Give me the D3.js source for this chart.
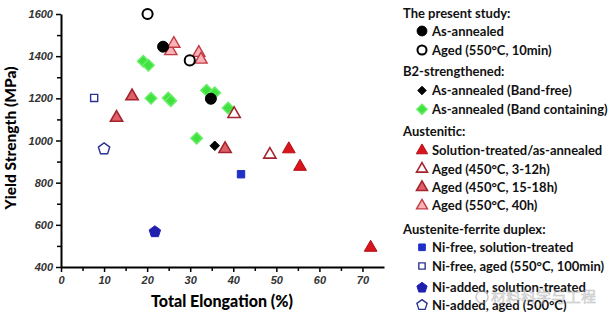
<!DOCTYPE html>
<html>
<head>
<meta charset="utf-8">
<script src="https://cdn.jsdelivr.net/npm/d3@7"></script>
<style>
  body { margin: 0; background: #fff; }
  svg { display: block; }
  .tick text { font-family: "Liberation Sans", Arial, sans-serif; font-weight: bold; font-style: italic; font-size: 11px; fill: #333; }
  .legend text { font-family: Lato, "Open Sans", sans-serif; font-weight: bold; font-size: 13px; fill: #111; }
</style>
</head>
<body>
<svg id="chart"></svg>
<script>
// values: total elongation (%) and yield strength (MPa)
var presentAnnealedX = [23.7, 34.8], presentAnnealedY = [1445, 1198];
var presentAgedX = [20.1, 29.9], presentAgedY = [1600, 1380];
var bandFreeX = [35.7], bandFreeY = [975];
var bandContX = [19.1, 20.3, 20.9, 24.9, 25.5, 31.5, 33.8, 35.7, 38.8];
var bandContY = [1376, 1357, 1200, 1202, 1189, 1011, 1238, 1226, 1154];
var solutionX = [52.9, 55.5, 71.9], solutionY = [959, 876, 492];
var aged312X = [48.5, 40.2], aged312Y = [933, 1126];
var aged1518X = [16.5, 12.9, 38.1], aged1518Y = [1210, 1108, 960];
var aged550X = [25.5, 26.2, 32.0, 32.5], aged550Y = [1424, 1459, 1416, 1384];
var niFreeSTX = [41.8], niFreeSTY = [840];
var niFreeAgedX = [7.7], niFreeAgedY = [1202];
var niAddedSTX = [21.8], niAddedSTY = [567];
var niAddedAgedX = [10.0], niAddedAgedY = [960];

var xTicks = [0, 10, 20, 30, 40, 50, 60, 70];
var yTicks = [400, 600, 800, 1000, 1200, 1400, 1600];

var svgWidth = 616, svgHeight = 328;
var svg = d3.select("#chart").attr("width", svgWidth).attr("height", svgHeight);

var margin = {top: 14, left: 61, right: 232, bottom: 61};

var x = d3.scaleLinear().domain([0, 75]).range([margin.left, svgWidth - margin.right]);
var y = d3.scaleLinear().domain([400, 1600]).range([svgHeight - margin.bottom, margin.top]);

// minor ticks
svg.append("g")
  .attr("transform", "translate(0," + y(400) + ")")
  .call(d3.axisBottom(x).tickValues(d3.range(5, 75, 10)).tickSize(4).tickFormat(""))
  .call(g => g.select(".domain").remove())
  .selectAll("line").attr("stroke-width", 1.5);
svg.append("g")
  .attr("transform", "translate(" + x(0) + ",0)")
  .call(d3.axisLeft(y).tickValues(d3.range(500, 1600, 200)).tickSize(4).tickFormat(""))
  .call(g => g.select(".domain").remove())
  .selectAll("line").attr("stroke-width", 1.5);

var xAxis = svg.append("g")
  .attr("transform", "translate(0," + y(400) + ")")
  .call(d3.axisBottom(x).tickValues(xTicks).tickSize(5).tickPadding(4).tickSizeOuter(0));
var yAxis = svg.append("g")
  .attr("transform", "translate(" + x(0) + ",0)")
  .call(d3.axisLeft(y).tickValues(yTicks).tickFormat(d3.format("d")).tickSize(5).tickPadding(3).tickSizeOuter(0));
[xAxis, yAxis].forEach(function(a){
  a.select(".domain").attr("stroke-width", 2);
  a.selectAll(".tick line").attr("stroke-width", 1.5);
});

svg.append("text")
  .attr("x", 222).attr("y", 307)
  .attr("text-anchor", "middle")
  .style("font-family", "Lato, sans-serif").style("font-weight", "900").style("font-size", "16px")
  .text("Total Elongation (%)");
svg.append("text")
  .attr("transform", "translate(16,138) rotate(-90)")
  .attr("text-anchor", "middle")
  .style("font-family", "Lato, sans-serif").style("font-weight", "900").style("font-size", "15.5px")
  .text("Yield Strength (MPa)");

var red = "#d9141c", darkRed = "#a3242c";
var styles = {
  presentAnnealed: {shape: d3.symbolCircle, size: 95, fill: "#000", stroke: "#000", sw: 1},
  presentAged: {shape: d3.symbolCircle, size: 80, fill: "#fff", stroke: "#000", sw: 2},
  bandFree: {shape: "diamond", size: 45, fill: "#000", stroke: "#000", sw: 1},
  bandCont: {shape: "diamond", size: 65, fill: "#3fe23f", stroke: "#66ee66", sw: 1.5},
  solution: {shape: d3.symbolTriangle, size: 70, fill: red, stroke: "#b30f15", sw: 1},
  aged312: {shape: d3.symbolTriangle, size: 65, fill: "#fff", stroke: darkRed, sw: 1.6},
  aged1518: {shape: d3.symbolTriangle, size: 65, fill: "#e0606a", stroke: darkRed, sw: 1.6},
  aged550: {shape: d3.symbolTriangle, size: 65, fill: "#f7b3b8", stroke: "#c23a44", sw: 1.4},
  niFreeST: {shape: d3.symbolSquare, size: 55, fill: "#1f2fc8", stroke: "#1f2fc8", sw: 1},
  niFreeAged: {shape: d3.symbolSquare, size: 50, fill: "#fff", stroke: "#2b3590", sw: 1.4},
  niAddedST: {shape: "pent", size: 36, fill: "#2020b0", stroke: "#2020b0", sw: 1},
  niAddedAged: {shape: "pent", size: 36, fill: "#fff", stroke: "#2b3590", sw: 1.4}
};

// pentagon path (d3 v7 has no pentagon symbol)
function pentagon(r){
  var pts = d3.range(5).map(function(i){
    var a = -Math.PI / 2 + i * 2 * Math.PI / 5;
    return [r * Math.cos(a), r * Math.sin(a)];
  });
  return "M" + pts.join("L") + "Z";
}
// square turned 45deg, like the reference diamonds
function diamond(size){
  var h = Math.sqrt(size) / Math.SQRT2 * 1.0;
  var r = Math.sqrt(size) * Math.SQRT1_2 * Math.SQRT2 / 1.414;
  return "M0," + (-r) + "L" + r + ",0L0," + r + "L" + (-r) + ",0Z";
}
function symbolPath(st, scale){
  scale = scale || 1;
  if (st.shape === "pent") return pentagon(Math.sqrt(st.size * scale));
  if (st.shape === "diamond") return diamond(st.size * scale);
  return d3.symbol().type(st.shape).size(st.size * scale)();
}

var series = [
  ["bandCont", bandContX, bandContY],
  ["bandFree", bandFreeX, bandFreeY],
  ["aged1518", aged1518X, aged1518Y],
  ["aged550", aged550X, aged550Y],
  ["aged312", aged312X, aged312Y],
  ["solution", solutionX, solutionY],
  ["niFreeST", niFreeSTX, niFreeSTY],
  ["niFreeAged", niFreeAgedX, niFreeAgedY],
  ["niAddedST", niAddedSTX, niAddedSTY],
  ["niAddedAged", niAddedAgedX, niAddedAgedY],
  ["presentAnnealed", presentAnnealedX, presentAnnealedY],
  ["presentAged", presentAgedX, presentAgedY]
];

var plot = svg.append("g").attr("id", "plot");
series.forEach(function(s){
  var st = styles[s[0]];
  var pts = s[1].map(function(v, i){ return [v, s[2][i]]; });
  plot.selectAll(null)
    .data(pts)
    .enter()
    .append("path")
      .attr("transform", d => "translate(" + x(d[0]) + "," + y(d[1]) + ")")
      .attr("d", symbolPath(st))
      .attr("fill", st.fill)
      .attr("stroke", st.stroke)
      .attr("stroke-width", st.sw);
});

// legend
var legendRows = [
  {t: "The present study:", y: 13},
  {t: "As-annealed", y: 31, k: "presentAnnealed"},
  {t: "Aged (550\u00b0C, 10min)", y: 50, k: "presentAged"},
  {t: "B2-strengthened:", y: 71.5},
  {t: "As-annealed (Band-free)", y: 90.5, k: "bandFree"},
  {t: "As-annealed (Band containing)", y: 109.3, k: "bandCont"},
  {t: "Austenitic:", y: 131},
  {t: "Solution-treated/as-annealed", y: 150.5, k: "solution"},
  {t: "Aged (450\u00b0C, 3-12h)", y: 169, k: "aged312"},
  {t: "Aged (450\u00b0C, 15-18h)", y: 187.3, k: "aged1518"},
  {t: "Aged (550\u00b0C, 40h)", y: 205.7, k: "aged550"},
  {t: "Austenite-ferrite duplex:", y: 229},
  {t: "Ni-free, solution-treated", y: 247.3, k: "niFreeST"},
  {t: "Ni-free, aged (550\u00b0C, 100min)", y: 266, k: "niFreeAged"},
  {t: "Ni-added, solution-treated", y: 287.7, k: "niAddedST"},
  {t: "Ni-added, aged (500\u00b0C)", y: 305, k: "niAddedAged"}
];
var legend = svg.append("g").attr("class", "legend");
legend.selectAll("text")
  .data(legendRows)
  .enter()
  .append("text")
    .attr("x", d => d.k ? 432 : 403)
    .attr("y", d => d.y)
    .attr("dy", "0.35em")
    .text(d => d.t);
legend.selectAll("path")
  .data(legendRows.filter(d => d.k))
  .enter()
  .append("path")
    .attr("transform", d => "translate(422," + d.y + ")")
    .attr("d", d => symbolPath(styles[d.k], 0.8))
    .attr("fill", d => styles[d.k].fill)
    .attr("stroke", d => styles[d.k].stroke)
    .attr("stroke-width", d => styles[d.k].sw);

// watermark
var wm = svg.append("g").attr("opacity", 0.5);
wm.append("circle").attr("cx", 482).attr("cy", 297).attr("r", 6)
  .attr("fill", "none").attr("stroke", "#999").attr("stroke-width", 1.5);
wm.append("text").attr("x", 491).attr("y", 302)
  .style("font-family", "Noto Sans CJK SC").style("font-size", "15px")
  .attr("fill", "#ccc").attr("stroke", "#888").attr("stroke-width", 0.5)
  .text("材料科学与工程");
</script>
</body>
</html>
